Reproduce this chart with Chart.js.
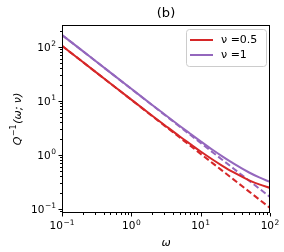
<!DOCTYPE html>
<html>
<head>
<meta charset="utf-8">
<script src="https://cdn.jsdelivr.net/npm/chart.js@4"></script>
<style>
html,body{margin:0;padding:0;background:#fff;}
#wrap{width:284px;height:252px;}
</style>
</head>
<body>
<div id="wrap"><canvas id="c" width="284" height="252"></canvas></div>
<script>
const omega = [0.1, 0.2, 0.5, 1, 2, 3, 5, 7, 10, 15, 20, 30, 50, 70, 100];
const redSolid = [105, 52.6, 21.08, 10.58, 5.34, 3.6, 2.2, 1.61, 1.16, 0.815, 0.644, 0.474, 0.34, 0.285, 0.245];
const redDashed = [105, 52.5, 21, 10.5, 5.25, 3.5, 2.1, 1.5, 1.05, 0.7, 0.525, 0.35, 0.21, 0.15, 0.105];
const purpleSolid = [167, 83.6, 33.5, 16.8, 8.45, 5.68, 3.45, 2.505, 1.79, 1.234, 0.963, 0.691, 0.474, 0.384, 0.317];
const purpleDashed = [167, 83.5, 33.4, 16.7, 8.35, 5.57, 3.34, 2.39, 1.67, 1.11, 0.835, 0.557, 0.334, 0.239, 0.167];
const xTickValues = [0.1, 1, 10, 100];
const yTickValues = [0.1, 1, 10, 100];
const seriesLabels = ['ν =0.5', 'ν =1'];
const titleText = '(b)';
const xLabel = 'ω';

const RED = '#d62728';
const PURPLE = '#9467bd';
const FONT = '"DejaVu Sans", sans-serif';

const pts = (ys) => omega.map((x, i) => ({x: x, y: ys[i]}));
const expOf = (v) => String(Math.round(Math.log10(v))).replace('-', '−');

function drawPow(ctx, exp, x, y, align) {
  // draws "10" with superscript exponent; y = vertical centre of "10"
  ctx.font = '10.5px ' + FONT;
  const wb = ctx.measureText('10').width;
  ctx.font = '7.5px ' + FONT;
  const we = ctx.measureText(exp).width;
  const total = wb + we + 0.5;
  let x0 = align === 'right' ? x - total : x - total / 2;
  ctx.textAlign = 'left';
  ctx.textBaseline = 'alphabetic';
  ctx.font = '10.5px ' + FONT;
  ctx.fillText('10', x0, y + 3.8);
  ctx.font = '7.5px ' + FONT;
  ctx.fillText(exp, x0 + wb + 0.5, y - 0.5);
}

const deco = {
  id: 'deco',
  afterDraw(chart) {
    const ctx = chart.ctx;
    const a = chart.chartArea;
    const xs = chart.scales.x, ys = chart.scales.y;
    ctx.save();
    // frame
    ctx.strokeStyle = '#000';
    ctx.lineWidth = 1;
    ctx.strokeRect(Math.round(a.left) + 0.5, Math.round(a.top) + 0.5, Math.round(a.right - a.left) - 1, Math.round(a.bottom - a.top) - 1);
    // ticks
    ctx.beginPath();
    for (let d = -2; d <= 3; d++) {
      for (let k = 1; k <= 9; k++) {
        const v = k * Math.pow(10, d);
        const len = k === 1 ? 3.5 : 2;
        if (v >= xs.min * 0.999 && v <= xs.max * 1.001) {
          const px = Math.round(xs.getPixelForValue(v)) + 0.5;
          ctx.moveTo(px, a.bottom);
          ctx.lineTo(px, a.bottom + len);
        }
        if (v >= ys.min * 0.999 && v <= ys.max * 1.001) {
          const py = Math.round(ys.getPixelForValue(v)) + 0.5;
          ctx.moveTo(a.left, py);
          ctx.lineTo(a.left - len, py);
        }
      }
    }
    ctx.stroke();
    // tick labels
    ctx.fillStyle = '#000';
    xTickValues.forEach(v => drawPow(ctx, expOf(v), xs.getPixelForValue(v), a.bottom + 12, 'center'));
    yTickValues.forEach(v => drawPow(ctx, expOf(v), a.left - 6, ys.getPixelForValue(v), 'right'));
    // title
    ctx.textAlign = 'center';
    ctx.textBaseline = 'middle';
    ctx.font = '13px ' + FONT;
    ctx.fillText(titleText, (a.left + a.right) / 2, 14);
    // x label
    ctx.font = 'italic 11px ' + FONT;
    ctx.fillText(xLabel, (a.left + a.right) / 2, 243);
    // y label: Q^{-1}(ω; ν)
    ctx.save();
    ctx.translate(17, (a.top + a.bottom) / 2);
    ctx.rotate(-Math.PI / 2);
    ctx.textBaseline = 'alphabetic';
    ctx.textAlign = 'left';
    const p1 = 'Q', p2 = '−1', p3 = '(ω; ν)';
    ctx.font = 'italic 11px ' + FONT;
    const w1 = ctx.measureText(p1).width, w3 = ctx.measureText(p3).width;
    ctx.font = '8px ' + FONT;
    const w2 = ctx.measureText(p2).width;
    let x0 = -(w1 + w2 + w3 + 1) / 2;
    ctx.font = 'italic 11px ' + FONT;
    ctx.fillText(p1, x0, 4);
    ctx.font = '8px ' + FONT;
    ctx.fillText(p2, x0 + w1 + 0.5, -1);
    ctx.font = 'italic 11px ' + FONT;
    ctx.fillText(p3, x0 + w1 + w2 + 1, 4);
    ctx.restore();
    // legend
    const lx = 186.5, ly = 29.5, lw = 80, lh = 37, r = 3;
    ctx.beginPath();
    ctx.moveTo(lx + r, ly);
    ctx.arcTo(lx + lw, ly, lx + lw, ly + lh, r);
    ctx.arcTo(lx + lw, ly + lh, lx, ly + lh, r);
    ctx.arcTo(lx, ly + lh, lx, ly, r);
    ctx.arcTo(lx, ly, lx + lw, ly, r);
    ctx.closePath();
    ctx.fillStyle = 'rgba(255,255,255,0.8)';
    ctx.fill();
    ctx.strokeStyle = '#cccccc';
    ctx.lineWidth = 1;
    ctx.stroke();
    const cols = [RED, PURPLE];
    const rows = [40, 55];
    ctx.font = '11px ' + FONT;
    ctx.textAlign = 'left';
    ctx.textBaseline = 'middle';
    ctx.lineWidth = 2;
    for (let i = 0; i < 2; i++) {
      ctx.strokeStyle = cols[i];
      ctx.beginPath();
      ctx.moveTo(190, rows[i]);
      ctx.lineTo(213, rows[i]);
      ctx.stroke();
      ctx.fillStyle = '#000';
      ctx.fillText(seriesLabels[i], 221, rows[i]);
    }
    ctx.restore();
  }
};

new Chart(document.getElementById('c'), {
  type: 'line',
  data: {
    datasets: [
      {label: seriesLabels[0], data: pts(redSolid), borderColor: RED, borderWidth: 2, pointRadius: 0, cubicInterpolationMode: 'monotone', order: 1},
      {label: seriesLabels[1], data: pts(purpleSolid), borderColor: PURPLE, borderWidth: 2, pointRadius: 0, cubicInterpolationMode: 'monotone', order: 1},
      {label: 'red asym', data: pts(redDashed), borderColor: RED, borderWidth: 2, borderDash: [6, 3], pointRadius: 0, order: 2},
      {label: 'purple asym', data: pts(purpleDashed), borderColor: PURPLE, borderWidth: 2, borderDash: [6, 3], pointRadius: 0, order: 2}
    ]
  },
  options: {
    responsive: false,
    animation: false,
    devicePixelRatio: 1,
    layout: {padding: {top: 25, right: 14, left: 0, bottom: 0}},
    plugins: {legend: {display: false}, title: {display: false}, tooltip: {enabled: false}},
    scales: {
      x: {
        type: 'logarithmic', min: 0.1, max: 100,
        grid: {display: false}, border: {display: false},
        afterBuildTicks: (s) => { s.ticks = xTickValues.map(v => ({value: v, major: true})); },
        afterFit: (s) => { s.height = 39; },
        ticks: {display: false}
      },
      y: {
        type: 'logarithmic', min: 0.0843, max: 255,
        grid: {display: false}, border: {display: false},
        afterBuildTicks: (s) => { s.ticks = yTickValues.map(v => ({value: v, major: true})); },
        afterFit: (s) => { s.width = 62; },
        ticks: {display: false}
      }
    }
  },
  plugins: [deco]
});
</script>
</body>
</html>
